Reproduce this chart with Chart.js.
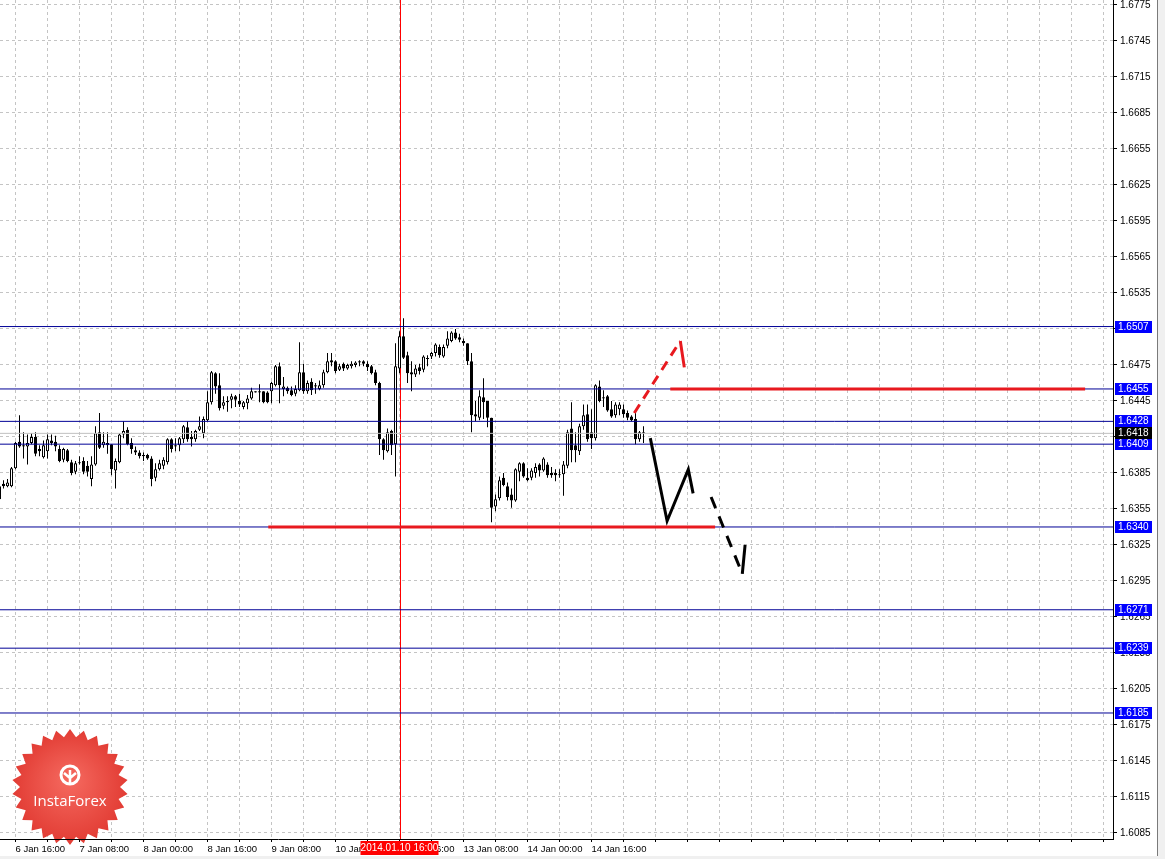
<!DOCTYPE html>
<html>
<head>
<meta charset="utf-8">
<script src="https://cdn.jsdelivr.net/npm/chart.js@4.4.1/dist/chart.umd.min.js"></script>
<style>
html, body { margin: 0; padding: 0; background: #fff; }
#wrap { width: 1165px; height: 859px; }
</style>
</head>
<body>
<div id="wrap"><canvas id="chart" width="1165" height="859"></canvas></div>
<script>
// H1 bars, first bar = 6 Jan 12:00 (bar 0 = 13:00)
const firstBar = -1;
const open = [
  1.6374,1.6376,1.6374,1.6374,1.6389,1.6411,1.6408,1.6407,1.6410,1.6415,
  1.6405,1.6398,1.6403,1.6412,1.6411,1.6405,1.6396,1.6404,1.6394,1.6386,
  1.6394,1.6395,1.6391,1.6380,1.6392,1.6419,1.6408,1.6410,1.6409,1.6387,
  1.6394,1.6417,1.6421,1.6410,1.6404,1.6402,1.6399,1.6400,1.6397,1.6381,
  1.6388,1.6391,1.6394,1.6413,1.6408,1.6408,1.6413,1.6423,1.6415,1.6413,
  1.6421,1.6418,1.6429,1.6444,1.6468,1.6458,1.6441,1.6444,1.6446,1.6449,
  1.6445,1.6440,1.6443,1.6447,1.6453,1.6452,1.6453,1.6452,1.6453,1.6458,
  1.6474,1.6455,1.6456,1.6454,1.6451,1.6454,1.6469,1.6453,1.6461,1.6458,
  1.6455,1.6458,1.6469,1.6479,1.6478,1.6471,1.6476,1.6472,1.6474,1.6475,
  1.6478,1.6478,1.6476,1.6474,1.6469,1.6460,1.6413,1.6403,1.6420,1.6409,
  1.6472,1.6499,1.6483,1.6469,1.6467,1.6473,1.6471,1.6480,1.6482,1.6485,
  1.6490,1.6482,1.6491,1.6495,1.6502,1.6498,1.6495,1.6493,1.6478,1.6434,
  1.6431,1.6448,1.6445,1.6431,1.6357,1.6364,1.6381,1.6374,1.6367,1.6362,
  1.6386,1.6393,1.6381,1.6381,1.6385,1.6392,1.6387,1.6392,1.6385,1.6385,
  1.6384,1.6384,1.6391,1.6422,1.6408,1.6403,1.6424,1.6434,1.6419,1.6414,
  1.6457,1.6448,1.6449,1.6438,1.6433,1.6438,1.6438,1.6435,1.6432,1.6430,
  1.6413,1.6419
];
const high = [
  1.6378,1.6379,1.6380,1.6390,1.6411,1.6433,1.6419,1.6417,1.6418,1.6419,
  1.6408,1.6412,1.6417,1.6417,1.6416,1.6408,1.6406,1.6405,1.6396,1.6395,
  1.6399,1.6398,1.6395,1.6399,1.6424,1.6435,1.6419,1.6419,1.6409,1.6397,
  1.6418,1.6428,1.6423,1.6414,1.6407,1.6404,1.6402,1.6401,1.6399,1.6393,
  1.6396,1.6398,1.6414,1.6414,1.6414,1.6415,1.6425,1.6428,1.6420,1.6421,
  1.6432,1.6432,1.6453,1.6470,1.6469,1.6468,1.6449,1.6449,1.6451,1.6450,
  1.6451,1.6445,1.6450,1.6456,1.6453,1.6459,1.6453,1.6453,1.6461,1.6475,
  1.6477,1.6465,1.6457,1.6457,1.6458,1.6494,1.6476,1.6462,1.6464,1.6460,
  1.6462,1.6471,1.6485,1.6485,1.6479,1.6476,1.6477,1.6476,1.6478,1.6478,
  1.6479,1.6479,1.6478,1.6475,1.6471,1.6461,1.6414,1.6422,1.6421,1.6493,
  1.6503,1.6514,1.6486,1.6478,1.6475,1.6476,1.6483,1.6483,1.6486,1.6493,
  1.6492,1.6492,1.6503,1.6503,1.6505,1.6501,1.6497,1.6493,1.6485,1.6445,
  1.6454,1.6464,1.6445,1.6431,1.6367,1.6382,1.6385,1.6377,1.6372,1.6389,
  1.6394,1.6394,1.6389,1.6389,1.6393,1.6393,1.6398,1.6394,1.6390,1.6388,
  1.6388,1.6395,1.6421,1.6444,1.6419,1.6426,1.6442,1.6442,1.6438,1.6459,
  1.6462,1.6454,1.6450,1.6445,1.6444,1.6444,1.6442,1.6437,1.6433,1.6436,
  1.6420,1.6424
];
const low = [
  1.6357,1.6372,1.6373,1.6373,1.6388,1.6406,1.6397,1.6392,1.6409,1.6399,
  1.6399,1.6397,1.6397,1.6408,1.6403,1.6394,1.6394,1.6394,1.6383,1.6384,
  1.6392,1.6384,1.6382,1.6374,1.6391,1.6405,1.6406,1.6401,1.6383,1.6372,
  1.6393,1.6414,1.6408,1.6401,1.6400,1.6397,1.6395,1.6396,1.6374,1.6378,
  1.6387,1.6388,1.6392,1.6402,1.6403,1.6403,1.6410,1.6411,1.6407,1.6411,
  1.6420,1.6414,1.6428,1.6442,1.6451,1.6437,1.6438,1.6436,1.6439,1.6440,
  1.6440,1.6438,1.6438,1.6446,1.6452,1.6444,1.6443,1.6443,1.6443,1.6457,
  1.6443,1.6449,1.6451,1.6449,1.6449,1.6453,1.6451,1.6451,1.6450,1.6451,
  1.6454,1.6456,1.6468,1.6474,1.6468,1.6470,1.6470,1.6471,1.6472,1.6473,
  1.6474,1.6474,1.6470,1.6467,1.6458,1.6400,1.6396,1.6402,1.6400,1.6382,
  1.6468,1.6480,1.6460,1.6453,1.6465,1.6467,1.6469,1.6474,1.6480,1.6482,
  1.6481,1.6481,1.6489,1.6494,1.6496,1.6494,1.6491,1.6475,1.6419,1.6428,
  1.6429,1.6430,1.6423,1.6344,1.6353,1.6362,1.6374,1.6362,1.6356,1.6361,
  1.6378,1.6381,1.6378,1.6379,1.6381,1.6382,1.6386,1.6381,1.6381,1.6378,
  1.6381,1.6366,1.6389,1.6394,1.6394,1.6400,1.6421,1.6411,1.6405,1.6412,
  1.6444,1.6440,1.6436,1.6431,1.6431,1.6433,1.6431,1.6429,1.6428,1.6409,
  1.6411,1.6410
];
const close = [
  1.6363,1.6374,1.6377,1.6389,1.6410,1.6407,1.6407,1.6410,1.6415,1.6401,
  1.6403,1.6408,1.6413,1.6410,1.6407,1.6395,1.6405,1.6395,1.6385,1.6393,
  1.6393,1.6386,1.6386,1.6392,1.6418,1.6406,1.6411,1.6408,1.6388,1.6395,
  1.6417,1.6420,1.6409,1.6405,1.6402,1.6399,1.6400,1.6397,1.6380,1.6388,
  1.6393,1.6396,1.6413,1.6405,1.6407,1.6414,1.6424,1.6413,1.6413,1.6420,
  1.6424,1.6430,1.6444,1.6469,1.6457,1.6439,1.6444,1.6445,1.6449,1.6446,
  1.6442,1.6444,1.6447,1.6453,1.6452,1.6453,1.6444,1.6444,1.6460,1.6474,
  1.6458,1.6457,1.6453,1.6450,1.6455,1.6469,1.6453,1.6460,1.6454,1.6457,
  1.6458,1.6469,1.6478,1.6477,1.6470,1.6474,1.6472,1.6475,1.6476,1.6477,
  1.6477,1.6476,1.6473,1.6468,1.6460,1.6413,1.6404,1.6419,1.6408,1.6474,
  1.6499,1.6481,1.6468,1.6467,1.6472,1.6470,1.6482,1.6480,1.6485,1.6492,
  1.6483,1.6490,1.6497,1.6502,1.6497,1.6496,1.6493,1.6478,1.6433,1.6432,
  1.6449,1.6444,1.6431,1.6356,1.6363,1.6379,1.6375,1.6365,1.6362,1.6388,
  1.6393,1.6382,1.6379,1.6387,1.6390,1.6387,1.6397,1.6383,1.6383,1.6383,
  1.6383,1.6392,1.6419,1.6404,1.6404,1.6424,1.6433,1.6413,1.6414,1.6458,
  1.6445,1.6447,1.6437,1.6432,1.6442,1.6442,1.6434,1.6431,1.6429,1.6413,
  1.6419,1.6418
];

const priceTicks = [1.6085, 1.6115, 1.6145, 1.6175, 1.6205, 1.6235, 1.6265, 1.6295,
  1.6325, 1.6355, 1.6385, 1.6415, 1.6445, 1.6475, 1.6505, 1.6535, 1.6565, 1.6595,
  1.6625, 1.6655, 1.6685, 1.6715, 1.6745, 1.6775];
const timeTickBars = [3, 19, 35, 51, 67, 83, 99, 115, 131, 147];
const timeTickLabels = ['6 Jan 16:00', '7 Jan 08:00', '8 Jan 00:00', '8 Jan 16:00', '9 Jan 08:00',
  '10 Jan 00:00', '10 Jan 16:00', '13 Jan 08:00', '14 Jan 00:00', '14 Jan 16:00'];

// horizontal levels and the bid price
const levels = [1.6507, 1.6455, 1.6428, 1.6409, 1.6340, 1.6271, 1.6239, 1.6185];
const bidPrice = 1.6418;
const markerBar = 99;
const markerLabel = '2014.01.10 16:00';

// hand drawn objects: [bar, price] points
const redLevels = [[[66.2, 1.6340], [177.9, 1.6340]], [[166.7, 1.6455], [270.4, 1.6455]]];
const redArrowDash = [[157.7, 1.6435], [169.2, 1.6495]];
const redArrowHead = [[169.2, 1.6495], [170.2, 1.6473]];
const blackPath = [[161.7, 1.6414], [165.9, 1.6345], [171.2, 1.6388], [172.4, 1.6368]];
const blackDash = [[176.9, 1.6365], [184.7, 1.6301]];
const blackHead = [[184.7, 1.6301], [185.4, 1.6325]];

const xMin = -0.875, xMax = 277.375;
const yMin = 1.60800, yMax = 1.67791;

const bars = open.map((_, i) => firstBar + i);
const gridBars = [];
for (let b = 3; b <= xMax; b += 8) gridBars.push(b);

const pts = arr => arr.map(p => ({x: p[0], y: p[1]}));
const lineSet = (data, color, width, dash, order) => ({
  type: 'line', data: data, borderColor: color, borderWidth: width,
  borderDash: dash, pointRadius: 0, fill: false, order: order
});

const datasets = [
  {
    type: 'bar',
    data: bars.map((b, i) => ({x: b, y: [open[i], close[i]]})),
    backgroundColor: bars.map((b, i) => close[i] >= open[i] ? '#ffffff' : '#000000'),
    borderColor: '#000', borderWidth: 1, borderSkipped: false,
    barThickness: 3, minBarLength: 1, grouped: false, inflateAmount: 0, order: 2
  },
  {
    type: 'bar',
    data: bars.map((b, i) => ({x: b, y: [low[i], high[i]]})),
    backgroundColor: '#000', borderWidth: 0,
    barThickness: 1, grouped: false, inflateAmount: 0, order: 3
  }
];
levels.forEach(v => datasets.push(lineSet([{x: xMin, y: v}, {x: xMax, y: v}], '#000096', 1, [], 1)));
datasets.push(lineSet([{x: xMin, y: bidPrice}, {x: xMax, y: bidPrice}], '#c0c0c0', 1, [], 1));
redLevels.forEach(l => datasets.push(lineSet(pts(l), '#e8191f', 3, [], 0)));
datasets.push(lineSet(pts(redArrowDash), '#e8191f', 3, [10, 7], 0));
datasets.push(lineSet(pts(redArrowHead), '#e8191f', 3, [], 0));
datasets.push(lineSet(pts(blackPath), '#000', 3, [], 0));
datasets.push(lineSet(pts(blackDash), '#000', 3, [12, 9], 0));
datasets.push(lineSet(pts(blackHead), '#000', 3, [], 0));

function drawLogo(ctx, cx, cy) {
  const spikes = 26, rOut = 58, rIn = 50;
  ctx.save();
  ctx.beginPath();
  for (let i = 0; i < spikes * 2; i++) {
    const r = i % 2 ? rIn : rOut;
    const a = i * Math.PI / spikes - Math.PI / 2;
    const px = cx + r * Math.cos(a), py = cy + r * Math.sin(a);
    if (i === 0) ctx.moveTo(px, py); else ctx.lineTo(px, py);
  }
  ctx.closePath();
  const g = ctx.createRadialGradient(cx, cy - 8, 4, cx, cy, rOut);
  g.addColorStop(0, '#f4675d');
  g.addColorStop(1, '#e23c34');
  ctx.fillStyle = g;
  ctx.fill();
  // little white emblem
  ctx.strokeStyle = '#fff';
  ctx.fillStyle = '#fff';
  ctx.lineWidth = 3;
  ctx.beginPath();
  ctx.arc(cx, cy - 12, 9, 0, Math.PI * 2);
  ctx.stroke();
  ctx.lineWidth = 2.5;
  ctx.beginPath();
  ctx.moveTo(cx, cy - 17); ctx.lineTo(cx, cy - 2);
  ctx.moveTo(cx - 6, cy - 14); ctx.lineTo(cx, cy - 9); ctx.lineTo(cx + 6, cy - 14);
  ctx.stroke();
  ctx.font = '15px "Open Sans", "Liberation Sans", sans-serif';
  ctx.textAlign = 'center';
  ctx.textBaseline = 'middle';
  ctx.fillText('InstaForex', cx, cy + 15);
  ctx.restore();
}

function priceBox(ctx, chart, value, fill) {
  const y = Math.round(chart.scales.y.getPixelForValue(value));
  const x = chart.chartArea.right + 2;
  ctx.fillStyle = fill;
  ctx.fillRect(x, y - 6, 37, 12);
  ctx.fillStyle = '#fff';
  ctx.textAlign = 'left';
  ctx.textBaseline = 'middle';
  ctx.fillText(value.toFixed(4), x + 3, y + 0.5);
}

const decor = {
  id: 'decor',
  beforeDraw(chart) {
    const c = chart.ctx;
    c.save();
    c.fillStyle = '#fff';
    c.fillRect(0, 0, chart.width, chart.height);
    c.restore();
  },
  beforeDatasetsDraw(chart) {
    const c = chart.ctx, a = chart.chartArea;
    drawLogo(c, 70, 787);
    const x = Math.round(chart.scales.x.getPixelForValue(markerBar)) + 0.5;
    c.save();
    c.strokeStyle = '#ff0000';
    c.lineWidth = 1;
    c.beginPath();
    c.moveTo(x, a.top);
    c.lineTo(x, a.bottom);
    c.stroke();
    c.restore();
  },
  afterDraw(chart) {
    const c = chart.ctx, a = chart.chartArea;
    c.save();
    c.font = '10px "Liberation Sans", Arial, sans-serif';
    levels.forEach(v => priceBox(c, chart, v, '#0000ff'));
    priceBox(c, chart, bidPrice, '#000000');
    // vertical line time label
    const x = chart.scales.x.getPixelForValue(markerBar);
    c.fillStyle = '#ff0000';
    c.fillRect(x - 39, a.bottom + 2, 78, 14);
    c.fillStyle = '#fff';
    c.textAlign = 'center';
    c.textBaseline = 'middle';
    c.fillText(markerLabel, x, a.bottom + 9.5);
    // window frame
    c.fillStyle = '#f0f0f0';
    c.fillRect(1158, 0, 7, chart.height);
    c.fillRect(0, 856, chart.width, 3);
    c.strokeStyle = '#7a7a7a';
    c.lineWidth = 1;
    c.beginPath();
    c.moveTo(1157.5, 0); c.lineTo(1157.5, 856);
    c.stroke();
    c.restore();
  }
};

Chart.defaults.font.family = "'Liberation Sans', Arial, sans-serif";
Chart.defaults.font.size = 10;
Chart.defaults.color = '#000';

new Chart(document.getElementById('chart').getContext('2d'), {
  type: 'bar',
  data: { datasets: datasets },
  plugins: [decor],
  options: {
    responsive: false,
    animation: false,
    events: [],
    layout: { autoPadding: false, padding: 0 },
    plugins: { legend: { display: false }, tooltip: { enabled: false } },
    scales: {
      x: {
        type: 'linear', min: xMin, max: xMax, offset: false,
        afterBuildTicks: s => { s.ticks = gridBars.map(v => ({value: v})); },
        afterFit: s => { s.height = 20; s.paddingLeft = 0; s.paddingRight = 0; },
        grid: { offset: false, color: '#c4c4c4', lineWidth: 1, drawTicks: true,
                tickLength: 3, tickColor: '#000', tickBorderDash: [] },
        border: { display: true, color: '#000', width: 1, dash: [3, 3], z: 1 },
        ticks: {
          autoSkip: false, maxRotation: 0, minRotation: 0, align: 'start', padding: 2, z: 1,
          color: '#000', font: { size: 9.5 },
          callback: v => {
            const j = timeTickBars.indexOf(v);
            return j >= 0 ? timeTickLabels[j] : '';
          }
        }
      },
      y: {
        position: 'right', min: yMin, max: yMax, beginAtZero: false,
        afterBuildTicks: s => { s.ticks = priceTicks.map(v => ({value: v})); },
        afterFit: s => { s.width = 52; s.paddingTop = 0; s.paddingBottom = 0; },
        grid: { color: '#c4c4c4', lineWidth: 1, tickLength: 4, tickColor: '#000', tickBorderDash: [] },
        border: { display: true, color: '#000', width: 1, dash: [3, 3] },
        ticks: { padding: 3, color: '#000', font: { size: 10 }, callback: v => v.toFixed(4) }
      }
    }
  }
});
</script>
</body>
</html>
